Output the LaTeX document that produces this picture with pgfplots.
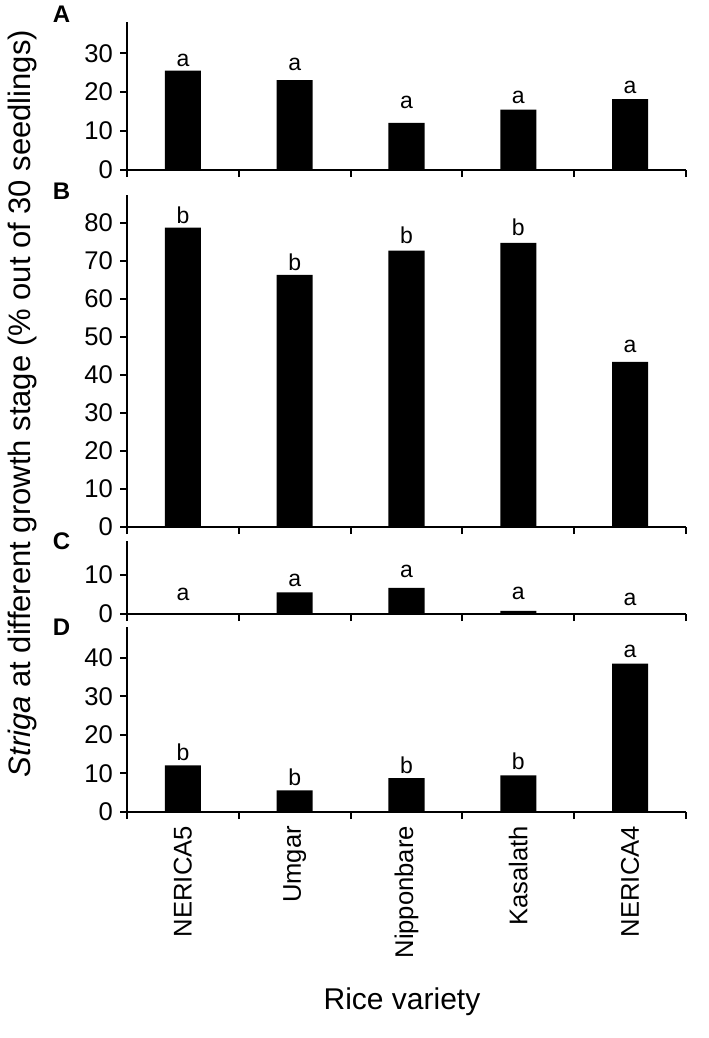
\documentclass[border=0pt]{standalone}
\usepackage{fontspec}
\setmainfont{Liberation Sans}
\usepackage{pgfplots}
\pgfplotsset{compat=1.18}
\pgfplotsset{
  panel/.style={
    scale only axis, width=279.5pt,
    xmin=-0.5, xmax=4.5, ymin=0,
    axis x line*=bottom, axis y line*=left,
    axis line style={line width=1pt, black},
    tick align=outside, major tick length=3.5pt, minor tick length=3.5pt,
    every tick/.style={line width=1pt, black},
    xtick={-0.5,0.5,1.5,2.5,3.5,4.5}, xticklabels={},
    ytick distance=10,
    /pgf/number format/assume math mode=true,
    yticklabel style={font=\fontsize{12.8}{14}\selectfont},
    clip=false,
    anchor=south west,
  },
  bars/.style={ybar, fill=black, draw=none, bar width=18pt},
  lett/.style={draw=none, mark=none, nodes near coords, point meta=explicit symbolic,
    every node near coord/.append style={anchor=center, inner sep=0pt, font=\fontsize{11.5}{12}\selectfont}},
}
\begin{document}
\begin{tikzpicture}
\useasboundingbox (0pt,0pt) rectangle (354pt,-519pt);
% Panel A
\begin{axis}[panel, at={(63.5pt,-85pt)}, height=74.15pt, ymax=38.1, ytick={0,10,20,30}]
\addplot[bars] coordinates {(0,25.5) (1,23.1) (2,12.1) (3,15.5) (4,18.2)};
\addplot[lett] coordinates {(0,28.1)[a] (1,27.2)[a] (2,17.3)[a] (3,18.6)[a] (4,21.2)[a]};
\end{axis}
% Panel B
\begin{axis}[panel, at={(63.5pt,-263.5pt)}, height=166pt, ymax=87.3, ytick={0,10,...,80}]
\addplot[bars] coordinates {(0,78.7) (1,66.3) (2,72.7) (3,74.7) (4,43.4)};
\addplot[lett] coordinates {(0,81.9)[b] (1,69.7)[b] (2,76.7)[b] (3,78.8)[b] (4,47.4)[a]};
\end{axis}
% Panel C
\begin{axis}[panel, at={(63.5pt,-307pt)}, height=36.6pt, ymax=18.7, ytick={0,10}]
\addplot[bars] coordinates {(0,0) (1,5.5) (2,6.7) (3,0.8) (4,0)};
\addplot[lett] coordinates {(0,4.9)[a] (1,8.7)[a] (2,10.8)[a] (3,5.2)[a] (4,3.6)[a]};
\end{axis}
% Panel D
\begin{axis}[panel, at={(63.5pt,-406pt)}, height=92.5pt, ymax=48, ytick={0,10,20,30,40},
  xtick={0,1,2,3,4}, xticklabels={NERICA5,Umgar,Nipponbare,Kasalath,NERICA4},
  major x tick style={draw=none},
  minor xtick={-0.5,0.5,1.5,2.5,3.5,4.5},
  xticklabel style={rotate=90, anchor=east, font=\fontsize{12.8}{14}\selectfont}]
\addplot[bars] coordinates {(0,12.1) (1,5.6) (2,8.8) (3,9.5) (4,38.5)};
\addplot[lett] coordinates {(0,15.4)[b] (1,8.9)[b] (2,12.1)[b] (3,13.2)[b] (4,41.6)[a]};
\end{axis}
% panel letters
\node[font=\bfseries\fontsize{12}{13}\selectfont] at (30.75pt,-7.25pt) {A};
\node[font=\bfseries\fontsize{12}{13}\selectfont] at (30.75pt,-95.75pt) {B};
\node[font=\bfseries\fontsize{12}{13}\selectfont] at (30.75pt,-270.5pt) {C};
\node[font=\bfseries\fontsize{12}{13}\selectfont] at (30.75pt,-313.75pt) {D};
% axis titles
\node[rotate=90, font=\fontsize{15.5}{17}\selectfont] at (11pt,-201.75pt) {\textit{Striga} at different growth stage (\% out of 30 seedlings)};
\node[font=\fontsize{15}{17}\selectfont] at (201pt,-501pt) {Rice variety};
\end{tikzpicture}
\end{document}
